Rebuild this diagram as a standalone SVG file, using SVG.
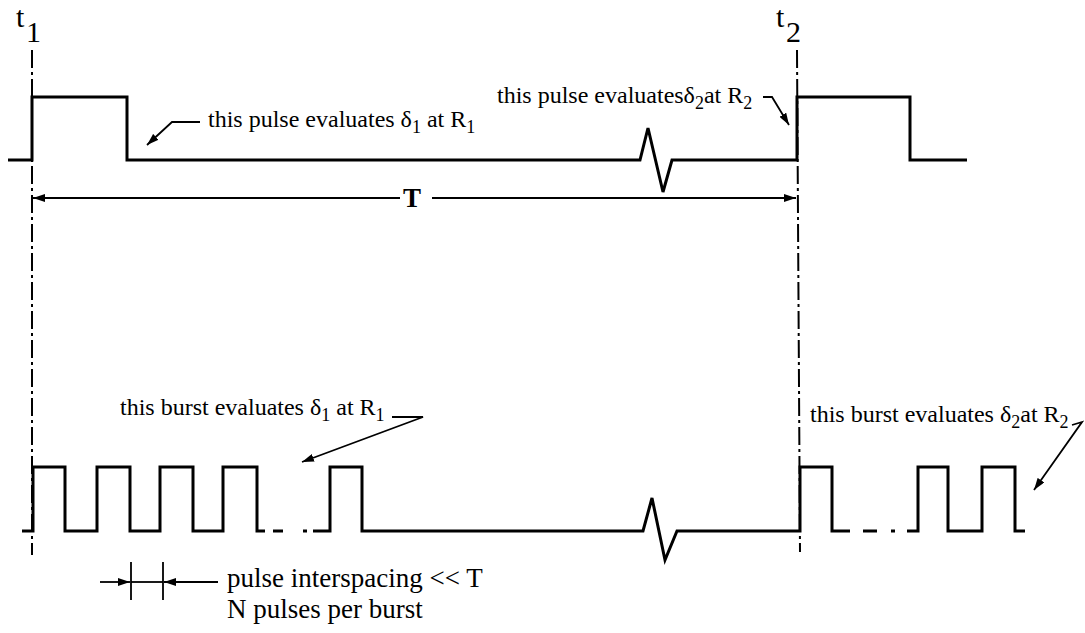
<svg xmlns="http://www.w3.org/2000/svg" width="1085" height="633" viewBox="0 0 1085 633">
<style>
.sig{fill:none;stroke:#000;stroke-width:3;stroke-linejoin:miter;stroke-linecap:butt}
.dd{fill:none;stroke:#000;stroke-width:2;stroke-dasharray:18 4 3 4}
.ar{fill:none;stroke:#000;stroke-width:1.8;marker-end:url(#ah)}
.ln{fill:none;stroke:#000;stroke-width:1.8}
.lbl{font-family:"Liberation Serif","Times New Roman",serif;font-size:24px;fill:#000}
.big{font-family:"Liberation Serif","Times New Roman",serif;font-size:27px;fill:#000}
.tl{font-family:"Liberation Serif","Times New Roman",serif;font-size:30px;fill:#000}
</style>
<defs>
<marker id="ah" viewBox="0 0 12 8" refX="12" refY="4" markerWidth="12" markerHeight="8" markerUnits="userSpaceOnUse" orient="auto">
<path d="M0,0 L12,4 L0,8 Z" fill="#000"/>
</marker>
</defs>
<rect width="1085" height="633" fill="#fff"/>

<g id="time-markers">
<path class="dd" d="M32,50 V555"/>
<path class="dd" d="M797,50 L800,552"/>
<text class="tl" x="16" y="27">t</text>
<text class="tl" x="26" y="42">1</text>
<text class="tl" x="776" y="27">t</text>
<text class="tl" x="786" y="42">2</text>
</g>

<g id="signal-top">
<path class="sig" d="M8,160 H32 V97 H127 V160 H640 L648,128 L663,192 L672,160 H797 V97 H910 V160 H967"/>
</g>

<g id="signal-bottom">
<path class="sig" d="M22,531 H33 V467 H65 V531 H97 V467 H130 V531 H160 V467 H193 V531 H223 V467 H257 V531 H265 M273,531 H283 M303,531 H307 M313,531 H330 V467 H362 V531 H643 L652,498 L665,560 L677,531 H800 V467 H832 V531 H850 M863,531 H877 M891,531 H895 M907,531 H918 V467 H948 V531 H982 V467 H1015 V531 H1025"/>
</g>

<g id="period-T">
<text class="big" x="412" y="207" text-anchor="middle" font-weight="bold" font-size="28">T</text>
</g>

<g id="label-pulse-1">
<text class="lbl" x="208" y="127">this pulse evaluates δ<tspan font-size="18" dy="6">1</tspan><tspan dy="-6"> at R</tspan><tspan font-size="18" dy="6">1</tspan></text>
</g>
<g id="label-pulse-2">
<text class="lbl" x="497" y="103">this pulse evaluatesδ<tspan font-size="18" dy="6">2</tspan><tspan dy="-6">at R</tspan><tspan font-size="18" dy="6">2</tspan></text>
</g>
<g id="label-burst-1">
<text class="lbl" x="120" y="415">this burst evaluates δ<tspan font-size="18" dy="6">1</tspan><tspan dy="-6"> at R</tspan><tspan font-size="18" dy="6">1</tspan></text>
</g>
<g id="label-burst-2">
<text class="lbl" x="810" y="422">this burst evaluates δ<tspan font-size="18" dy="6">2</tspan><tspan dy="-6">at R</tspan><tspan font-size="18" dy="6">2</tspan></text>
</g>
<g id="label-spacing">
<text class="big" x="227" y="587">pulse interspacing &lt;&lt; T</text>
<text class="big" x="227" y="618">N pulses per burst</text>
</g>

<g id="connectors">
<path class="ar" d="M400,198 H33"/>
<path class="ar" d="M432,198 H796"/>
<path class="ar" d="M200,122 H172 L147,145"/>
<path class="ar" d="M763,97 H772 L789,125"/>
<path class="ar" d="M392,417 H423 L302,462"/>
<path class="ar" d="M1072,425 L1082,422 L1034,490"/>
<path class="ar" d="M100,582 H130"/>
<path class="ar" d="M218,582 H164"/>
<path class="ln" stroke-width="1.2" d="M131,582 H163"/>
<path class="ln" d="M131,562 V600 M163,562 V600"/>
</g>
</svg>
